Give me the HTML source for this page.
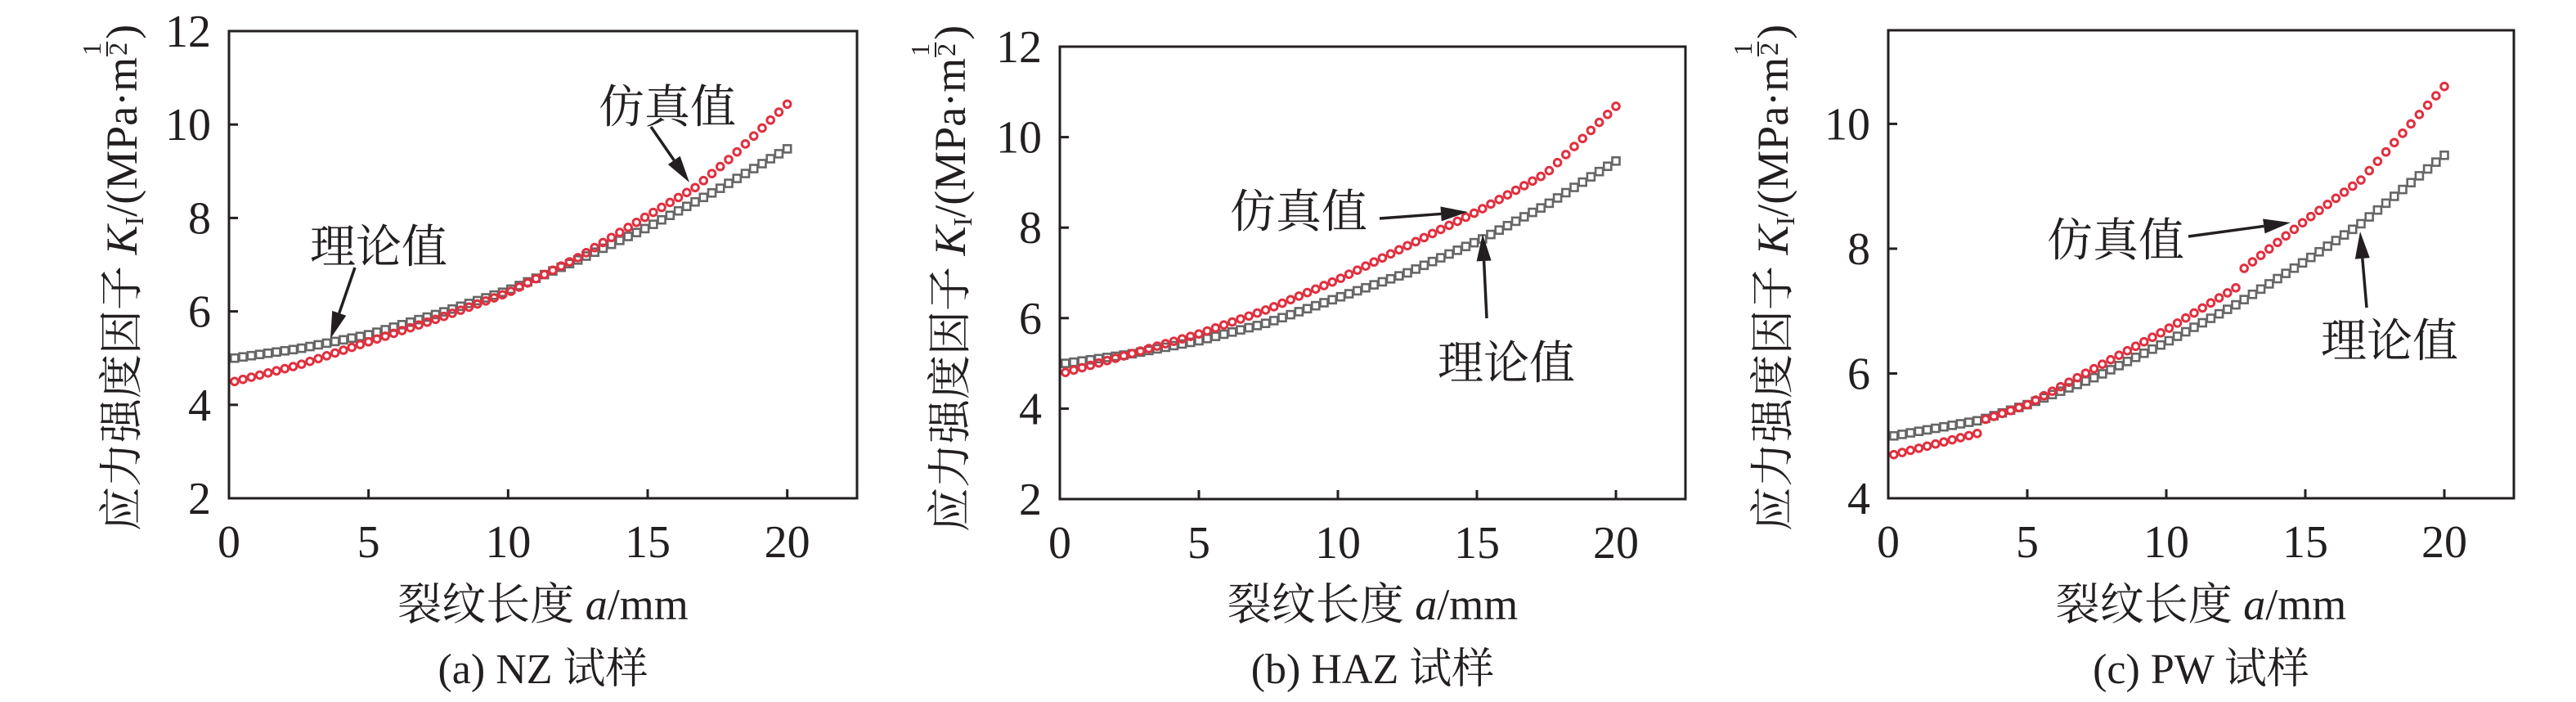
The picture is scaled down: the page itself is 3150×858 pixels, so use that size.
<!DOCTYPE html>
<html><head><meta charset="utf-8"><style>
html,body{margin:0;padding:0;background:#fff;}
svg{display:block;}
</style></head><body>
<svg id="s" width="3150" height="858" viewBox="0 0 3150 858" xmlns="http://www.w3.org/2000/svg" font-family="'Liberation Serif','Noto Serif CJK SC',serif" fill="#231f20"></svg>
<script>
const S=document.getElementById('s');let h='';
const panels=[
 {L:280,R:1048,T:38,B:609,ymin:2,ymax:12,yt:[2,4,6,8,10,12],ylx:149,cap:'(a) NZ 试样',
  th:[[0.2,5.0],[2.5,5.2],[5,5.5],[7.5,5.95],[10,6.45],[12.5,7.1],[15,7.8],[17.5,8.6],[20.2,9.55]],
  si:[[0.2,4.5],[2.5,4.85],[5,5.35],[7.5,5.85],[10,6.4],[12.5,7.15],[15,8.05],[16.7,8.65],[18,9.3],[20.2,10.55]],
  ann:[['理论值',379,321,434,327,404,414],['仿真值',732,150,796,155,843,223]]},
 {L:1296,R:2061,T:57,B:610,ymin:2,ymax:12,yt:[2,4,6,8,10,12],ylx:1162,cap:'(b) HAZ 试样',
  th:[[0.2,5.0],[2.5,5.2],[5,5.5],[7.5,5.9],[10,6.45],[12.5,7.0],[15.2,7.75],[17.5,8.5],[20.2,9.55]],
  si:[[0.2,4.8],[2.5,5.2],[5,5.65],[7.5,6.2],[10,6.85],[12.5,7.6],[15,8.35],[17.5,9.2],[20.2,10.8]],
  ann:[['仿真值',1504,278,1687,267,1795,259],['理论值',1758,463,1818,389,1813,286]]},
 {L:2309,R:3074,T:37,B:609,ymin:4,ymax:11.5,yt:[4,6,8,10],ylx:2168,cap:'(c) PW 试样',
  th:[[0.2,5.0],[3.3,5.25],[5,5.5],[7.5,5.95],[10,6.5],[12.5,7.1],[15,7.8],[17,8.4],[20.2,9.57]],
  si:[[0.2,4.7],[3.3,5.05],[3.4,5.25],[5,5.5],[7.5,6.1],[10,6.7],[12.6,7.4],[12.7,7.65],[14,8.1],[15,8.45],[17,9.1],[19.9,10.55],[20.0,10.6],[20.2,10.95]],
  ann:[['仿真值',2503,313,2676,289,2801,272],['理论值',2838,436,2894,376,2886,283]]}
];
function interp(a,x){for(let i=0;i<a.length-1;i++){if(x<=a[i+1][0]){const t=(x-a[i][0])/(a[i+1][0]-a[i][0]);return a[i][1]+t*(a[i+1][1]-a[i][1]);}}return a[a.length-1][1];}
function arrow(x1,y1,x2,y2){const dx=x2-x1,dy=y2-y1,l=Math.hypot(dx,dy),ux=dx/l,uy=dy/l,L=33,W=9;
 const bx=x2-ux*L,by=y2-uy*L;
 return `<line x1="${x1}" y1="${y1}" x2="${bx}" y2="${by}" stroke="#231f20" stroke-width="3.5"/><polygon points="${x2},${y2} ${bx-uy*W},${by+ux*W} ${bx+uy*W},${by-ux*W}" fill="#231f20"/>`;}
panels.forEach((p,i)=>{
 const x20=p.L+(p.R-p.L)*20/22.5;const sx=(x20-p.L)/20;
 const X=v=>p.L+v*sx, Y=v=>p.B-(v-p.ymin)*(p.B-p.T)/(p.ymax-p.ymin);
 for(let x=0.2;x<=20.21;x+=0.3){const y=interp(p.th,x);h+=`<rect x="${X(x)-4.5}" y="${Y(y)-4.5}" width="9" height="9" fill="none" stroke="#666" stroke-width="2.6"/>`;}
 for(let x=0.2;x<=20.21;x+=0.3){const y=interp(p.si,x);h+=`<circle cx="${X(x)}" cy="${Y(y)}" r="4.3" fill="none" stroke="#e0303f" stroke-width="3"/>`;}
 h+=`<rect x="${p.L}" y="${p.T}" width="${p.R-p.L}" height="${p.B-p.T}" fill="none" stroke="#231f20" stroke-width="3"/>`;
 for(let v=0;v<=20;v+=5){h+=`<line x1="${X(v)}" y1="${p.B}" x2="${X(v)}" y2="${p.B-11}" stroke="#231f20" stroke-width="3"/><text x="${X(v)}" y="${p.B+72}" font-size="56" text-anchor="middle">${v}</text>`;}
 p.yt.forEach(v=>{h+=`<line x1="${p.L}" y1="${Y(v)}" x2="${p.L+11}" y2="${Y(v)}" stroke="#231f20" stroke-width="3"/><text x="${p.L-22}" y="${Y(v)+19}" font-size="56" text-anchor="end">${v}</text>`;});
 h+=`<text x="${(p.L+p.R)/2}" y="757" font-size="54" text-anchor="middle">裂纹长度 <tspan font-style="italic">a</tspan>/mm</text>`;
 h+=`<text x="${(p.L+p.R)/2}" y="835" font-size="52" text-anchor="middle">${p.cap}</text>`;
 const yb=p.B+40;
 h+=`<g transform="translate(${p.ylx+18},${yb}) rotate(-90)"><text id="yl${i}" x="0" y="0" font-size="54">应力强度因子 <tspan font-style="italic">K</tspan><tspan font-size="32" dy="8">I</tspan><tspan dy="-8">/(MPa·m</tspan></text><g id="fr${i}"></g></g>`;
 p.ann.forEach(a=>{h+=`<text x="${a[1]}" y="${a[2]}" font-size="56">${a[0]}</text>`+arrow(a[3],a[4],a[5],a[6]);});
});
S.innerHTML=h;
panels.forEach((p,i)=>{
 const t=document.getElementById('yl'+i);const w=t.getComputedTextLength();
 document.getElementById('fr'+i).innerHTML=`<text x="${w+10}" y="-44" font-size="32" text-anchor="middle">1</text><line x1="${w+1}" y1="-36" x2="${w+19}" y2="-36" stroke="#231f20" stroke-width="2"/><text x="${w+10}" y="-12" font-size="32" text-anchor="middle">2</text><text x="${w+22}" y="0" font-size="54">)</text>`;
});
</script>
</body></html>
